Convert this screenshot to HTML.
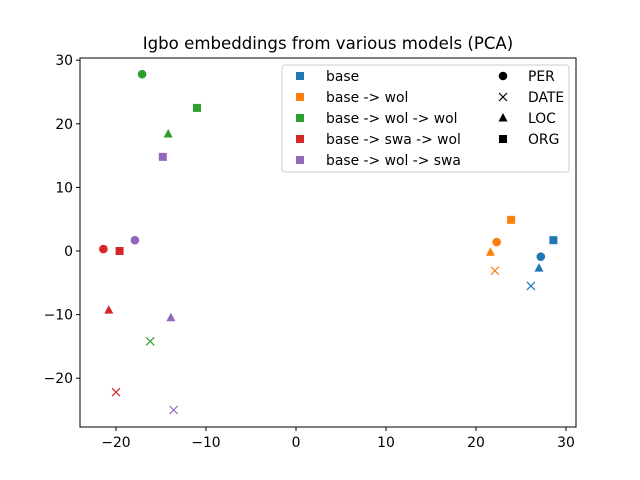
<!DOCTYPE html>
<html><head><meta charset="utf-8"><style>body{margin:0;background:#fff}svg{display:block}text{font-family:"DejaVu Sans","Liberation Sans",sans-serif}</style></head>
<body>
<svg id="chart" width="640" height="480">
<rect width="640" height="480" fill="#fff"/>
<text x="328" y="49" font-size="16.6" text-anchor="middle">Igbo embeddings from various models (PCA)</text>
<g id="plot"></g>
<rect x="80" y="58" width="496" height="369" fill="none" stroke="#000" stroke-width="1"/>
<g id="axes"></g>
<g id="legend"></g>
</svg>
<script>
const models = ["base","base -> wol","base -> wol -> wol","base -> swa -> wol","base -> wol -> swa"];
const colors = ["#1f77b4","#ff7f0e","#2ca02c","#d62728","#9467bd"];
const entities = ["PER","DATE","LOC","ORG"];
const xValues = [
  [27.2,26.1,27.0,28.6],
  [22.3,22.1,21.6,23.9],
  [-17.1,-16.2,-14.2,-11.0],
  [-21.4,-20.0,-20.8,-19.6],
  [-17.9,-13.6,-13.9,-14.8]
];
const yValues = [
  [-0.9,-5.5,-2.7,1.7],
  [1.4,-3.1,-0.2,4.9],
  [27.8,-14.2,18.4,22.5],
  [0.3,-22.2,-9.3,0.0],
  [1.7,-25.0,-10.5,14.8]
];
const xTicks = [-20,-10,0,10,20,30];
const yTicks = [-20,-10,0,10,20,30];
const NS="http://www.w3.org/2000/svg";
const sx = v => 296 + v*9.0;
const sy = v => 251 - v*6.36;
function el(tag, attrs, parent){const e=document.createElementNS(NS,tag);for(const k in attrs)e.setAttribute(k,attrs[k]);parent.appendChild(e);return e;}
function marker(kind,x,y,c,parent){
  let e;
  if(kind==="PER") e=el("circle",{cx:x,cy:y,r:4.3,fill:c},parent);
  else if(kind==="DATE") e=el("path",{d:`M${x-4},${y-4}L${x+4},${y+4}M${x-4},${y+4}L${x+4},${y-4}`,stroke:c,"stroke-width":1.2,fill:"none"},parent);
  else if(kind==="LOC") e=el("polygon",{points:`${x},${y-5} ${x+4.5},${y+3.5} ${x-4.5},${y+3.5}`,fill:c},parent);
  else e=el("rect",{x:x-4,y:y-4,width:8,height:8,fill:c},parent);
  return e;
}
const plot=document.getElementById("plot");
models.forEach((m,i)=>entities.forEach((en,j)=>{
  const p=marker(en,sx(xValues[i][j]),sy(yValues[i][j]),colors[i],plot);
  
  
}));
const axes=document.getElementById("axes");
xTicks.forEach(t=>{
  const x=sx(t);
  el("line",{x1:x,y1:427,x2:x,y2:431,stroke:"#000"},axes);
  const tx=el("text",{x:x,y:447,"font-size":13.9,"text-anchor":"middle"},axes);
  tx.textContent=(t<0?"\u2212"+(-t):t);
  
  
});
yTicks.forEach(t=>{
  const y=sy(t);
  el("line",{x1:76,y1:y,x2:80,y2:y,stroke:"#000"},axes);
  const tx=el("text",{x:73,y:y+5,"font-size":13.9,"text-anchor":"end"},axes);
  tx.textContent=(t<0?"\u2212"+(-t):t);
  
  
});
const lg=document.getElementById("legend");
el("rect",{x:282,y:65,width:287,height:107,rx:3,fill:"#fff",stroke:"#ccc","fill-opacity":0.8},lg);
models.forEach((m,i)=>{
  const y=76+i*21;
  marker("ORG",300,y,colors[i],lg);
  const t=el("text",{x:326,y:y+5,"font-size":13.9},lg);
  t.textContent=m;
  
  
});
entities.forEach((en,j)=>{
  const y=76+j*21;
  marker(en,503,y,"#000",lg);
  const t=el("text",{x:528,y:y+5,"font-size":13.9},lg);
  t.textContent=en;
  
  
});
</script>
</body></html>
